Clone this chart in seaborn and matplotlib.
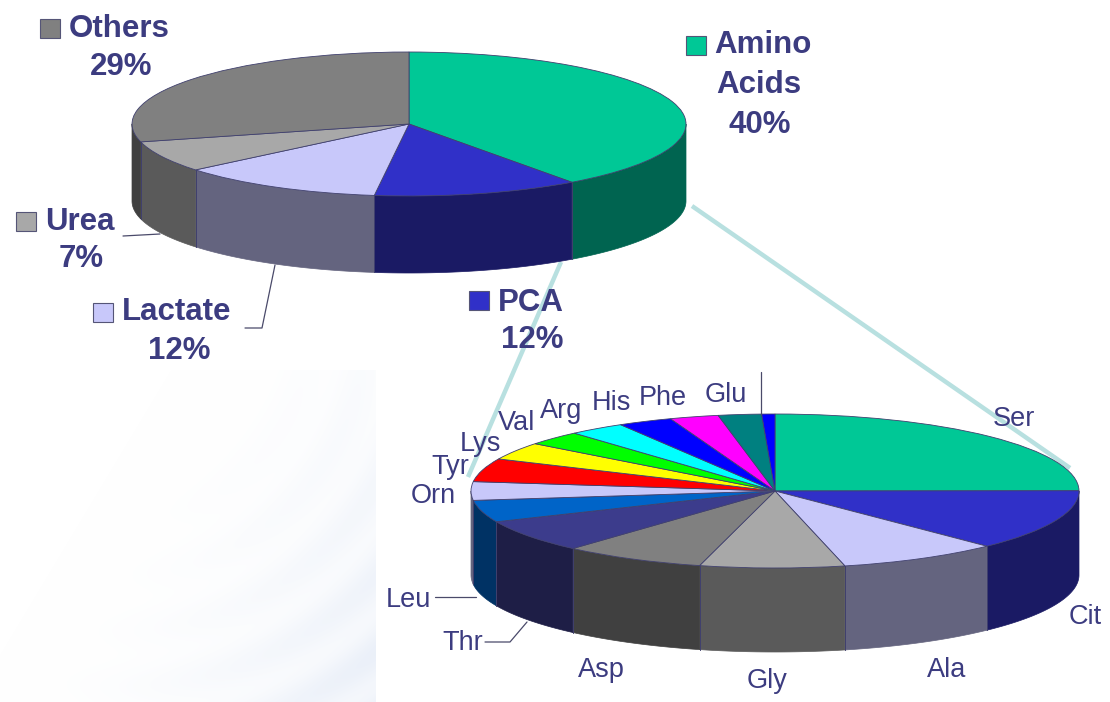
import numpy as np
import matplotlib
matplotlib.use("Agg")
import matplotlib.pyplot as plt
from matplotlib.patches import Rectangle
import seaborn as sns

# ---- data ----
main_labels = ["Amino Acids", "PCA", "Lactate", "Urea", "Others"]
main_values = [40, 12, 12, 7, 29]
main_top = ["#00C896", "#3030C8", "#C8C8FA", "#A8A8A8", "#808080"]
main_side = ["#006450", "#1A1A64", "#64647F", "#5A5A5A", "#404040"]

amino_labels = ["Ser", "Cit", "Ala", "Gly", "Asp", "Thr", "Leu", "Orn", "Tyr",
                "Lys", "Val", "Arg", "His", "Phe", "Glu", ""]
amino_values = [25, 12.8, 8.6, 7.7, 7.6, 6.9, 4.6, 3.9, 4.9, 3.7, 3.0, 3.0, 2.9, 2.6, 2.3, 0.7]
amino_top = ["#00C896", "#3030C8", "#C8C8FA", "#A8A8A8", "#808080", "#3C3C8C", "#0064C8",
             "#C8C8FA", "#FF0000", "#FFFF00", "#00FF00", "#00FFFF", "#0000FF", "#FF00FF",
             "#008080", "#0000FF"]
amino_side = ["#006450", "#1A1A64", "#64647F", "#5A5A5A", "#404040", "#1E1E46", "#003264",
              "#64647F", "#800000", "#808000", "#008000", "#008080", "#000080", "#800080",
              "#004040", "#000080"]

W, H = 1110, 702
INK = "#3C3C80"
EDGE = "#40406E"

sns.set_theme(style="white")
plt.rcParams["font.family"] = ["Liberation Sans", "DejaVu Sans"]

fig = plt.figure(figsize=(W / 100, H / 100), dpi=100, facecolor="white")

# ---- faint rippled backdrop ----
bg = fig.add_axes([0, 0, 1, 1], zorder=0)
bg.set_xlim(0, W)
bg.set_ylim(H, 0)
bg.axis("off")
xx, yy = np.meshgrid(np.arange(0, 376), np.arange(370, H))
d = np.hypot(xx - 120, yy - 330)
ramp = np.clip((xx + 0.6 * (yy - 370) - 170) / 400, 0, 1)
ripple = 0.5 + 0.5 * np.sin(d / 9.0)
amount = ramp ** 2 * (0.5 + 0.5 * ripple)
tint = np.array([232, 238, 248]) / 255
img = np.ones(xx.shape + (3,)) * (1 - amount[..., None]) + tint * amount[..., None]
bg.imshow(img, extent=(0, 376, H, 370), aspect="auto", interpolation="bilinear")
bg.set_xlim(0, W)
bg.set_ylim(H, 0)
for seg in [((692, 206), (1070, 468)), ((561, 262), (468, 477))]:
    bg.plot(*zip(*seg), color="#B8E0E0", lw=3.2, solid_capstyle="butt")


def pie3d(values, tops, sides, cx, cy, rx, ry, depth, z):
    ax = fig.add_axes([0, 0, 1, 1], zorder=z)
    ax.patch.set_alpha(0)
    dy = depth / ry
    frac = np.cumsum([0] + list(values)) / np.sum(values) * 2 * np.pi
    for a0, a1, side in zip(frac[:-1], frac[1:], sides):
        lo, hi = max(a0, np.pi / 2), min(a1, 3 * np.pi / 2)
        if hi <= lo:
            continue
        t = np.linspace(lo, hi, 80)
        xs, ys = np.sin(t), np.cos(t)
        ax.fill(np.r_[xs, xs[::-1]], np.r_[ys, ys[::-1] - dy],
                facecolor=side, edgecolor=side, lw=0.5)
        for edge in (lo, hi):
            if np.pi / 2 < edge < 3 * np.pi / 2:
                ax.plot([np.sin(edge)] * 2, [np.cos(edge), np.cos(edge) - dy],
                        color=EDGE, lw=0.6)
    ax.pie(values, colors=sns.color_palette(tops, len(tops)), startangle=90,
           counterclock=False, radius=1,
           wedgeprops=dict(edgecolor=EDGE, linewidth=0.6))
    ax.set_aspect("auto")
    ax.set_position([0, 0, 1, 1])
    ax.set_xlim(-cx / rx, (W - cx) / rx)
    ax.set_ylim((cy - H) / ry, cy / ry)
    ax.axis("off")
    return ax


pie3d(main_values, main_top, main_side, 409, 124, 277, 72, 77, 2)
pie3d(amino_values, amino_top, amino_side, 775, 491, 304, 77, 84, 3)

# ---- overlay with texts, keys and leaders ----
ov = fig.add_axes([0, 0, 1, 1], zorder=5)
ov.patch.set_alpha(0)
ov.set_xlim(0, W)
ov.set_ylim(H, 0)
ov.axis("off")

main_keys = {"Amino Acids": (686, 36), "PCA": (469, 291), "Lactate": (93, 303),
             "Urea": (16, 212), "Others": (40, 19)}
for name, color in zip(main_labels, main_top):
    x, y = main_keys[name]
    ov.add_patch(Rectangle((x, y), 20, 19, facecolor=color, edgecolor="#555577", lw=0.8))

big = dict(color=INK, fontsize=22.5, fontweight="bold", va="center")
big_text = [("Others", 69, 29, "left"), ("29%", 121, 67, "center"),
            ("Amino", 714, 45, "left"), ("Acids", 759, 85, "center"), ("40%", 760, 125, "center"),
            ("PCA", 498, 303, "left"), ("12%", 532, 340, "center"),
            ("Lactate", 122, 312, "left"), ("12%", 179, 351, "center"),
            ("Urea", 45, 222, "left"), ("7%", 81, 259, "center")]
for s, x, y, ha in big_text:
    ov.text(x, y, s, ha=ha, **big)

amino_pos = [(1014, 419), (1085, 617), (947, 670), (767, 681), (601, 670), (463, 643),
             (408, 600), (433, 496), (450, 467), (480, 444), (517, 423), (561, 411),
             (611, 403), (663, 398), (726, 395), (761, 395)]
for s, (x, y) in zip(amino_labels, amino_pos):
    if s:
        ov.text(x, y, s, ha="center", va="center", color=INK, fontsize=19.5)

leaders = [[(123, 236), (160, 234)],
           [(245, 328), (262, 328), (275, 265)],
           [(435, 597), (476, 597)],
           [(485, 642), (510, 642), (527, 622)],
           [(761, 372), (761, 415)]]
for pts in leaders:
    ov.plot(*zip(*pts), color="#4A4A6A", lw=0.9)

fig.savefig("out.png", dpi=100, facecolor="white")
